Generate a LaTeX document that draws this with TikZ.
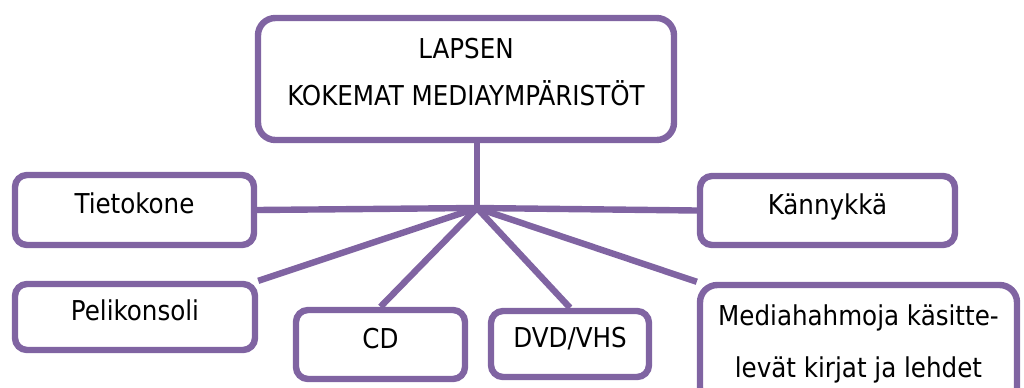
\documentclass[tikz,border=0pt]{standalone}
\usepackage{fontspec}
\setmainfont{DejaVu Sans Condensed}
\definecolor{mpurple}{HTML}{8064A2}
\begin{document}
\begin{tikzpicture}[x=0.75pt,y=-0.75pt,line width=4.8pt,
    box/.style={draw=mpurple,fill=white,rounded corners=9pt,inner sep=0pt,
      text height=15pt,text depth=9.6pt,font=\fontsize{20.5pt}{35pt}\selectfont},
    bigbox/.style={box,rounded corners=13pt,align=center}]

     \useasboundingbox (0,0) rectangle (1024,387);
     \clip (0,0) rectangle (1024,387);

     \path (466,79) node[bigbox,text height=48.6pt,minimum width=312pt,minimum height=91.5pt] (top)
        {LAPSEN\\KOKEMAT MEDIAYMPÄRISTÖT};
      \path (134.5,210) node[box,minimum width=179.25pt,minimum height=52.5pt] (tieto) {Tietokone};
      \path (135,317) node[box,minimum width=180pt,minimum height=49.5pt] (peli) {Pelikonsoli};
      \path (380.5,344.5) node[box,minimum width=126.75pt,minimum height=51.75pt] (cd) {CD};
      \path (570,344) node[box,minimum width=118.5pt,minimum height=49.5pt] (dvd) {DVD/VHS};
      \path (827.5,210.5) node[box,minimum width=191.25pt,minimum height=51.75pt] (kanny) {Kännykkä};
      \path (858.5,345) node[bigbox,text height=57.6pt,minimum width=237.75pt,minimum height=90pt] (media)
        {Mediahahmoja käsitte-\\[3.75pt]levät kirjat ja lehdet};
      \coordinate (hub) at (477,208);

      \draw[mpurple] (hub) -- (hub |- top.south);
      \draw[mpurple] (hub) -- (tieto.east);
      \draw[mpurple] (hub) -- (kanny.west);
      \draw[mpurple] (hub) -- (peli.north east);
      \draw[mpurple] (hub) -- (cd.north);
      \draw[mpurple] (hub) -- (dvd.north);
      \draw[mpurple] (hub) -- (media.north west);

   \end{tikzpicture}
\end{document}
